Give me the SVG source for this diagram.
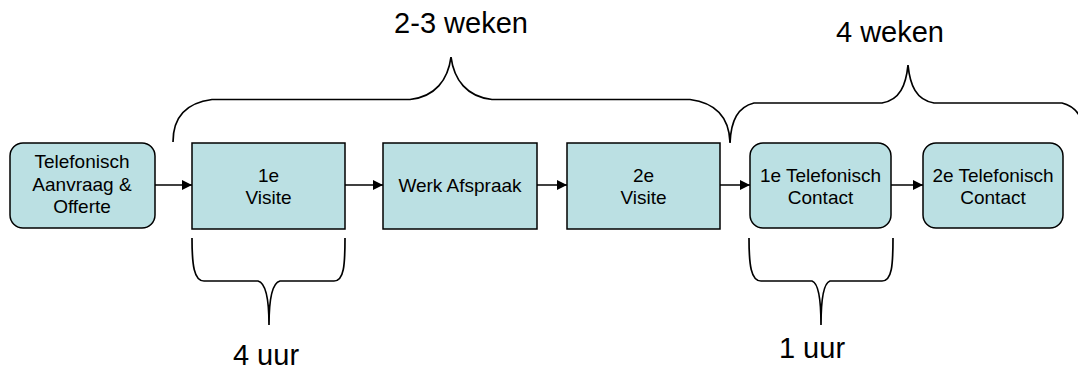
<svg xmlns="http://www.w3.org/2000/svg" width="1078" height="371" viewBox="0 0 1078 371">
<style>
.box{fill:#BBE0E3;stroke:#000;stroke-width:1.5}
.t{font-family:"Liberation Sans",Arial,sans-serif;font-size:19px;fill:#000;text-anchor:middle}
.big{font-family:"Liberation Sans",Arial,sans-serif;font-size:29px;fill:#000;text-anchor:middle}
.c{fill:none;stroke:#000;stroke-width:1.5}
.br{fill:none;stroke:#000;stroke-width:1.7}
</style>
<defs>
<marker id="ah" viewBox="0 0 10 10" refX="10" refY="5" markerWidth="10" markerHeight="10" markerUnits="userSpaceOnUse" orient="auto">
<path d="M0,0 L10,5 L0,10 Z" fill="#000"/>
</marker>
</defs>
<rect width="1078" height="371" fill="#fff"/>
<g id="n1"><rect class="box" x="10" y="143" width="145" height="85" rx="13"/>
<text class="t" x="82" y="168">Telefonisch</text><text class="t" x="82" y="191">Aanvraag &amp;</text><text class="t" x="82" y="213">Offerte</text></g>
<g id="n2"><rect class="box" x="192" y="143" width="153" height="86"/>
<text class="t" x="268.5" y="181.5">1e</text><text class="t" x="268.5" y="204">Visite</text></g>
<g id="n3"><rect class="box" x="383" y="143" width="154" height="86"/>
<text class="t" x="460" y="192">Werk Afspraak</text></g>
<g id="n4"><rect class="box" x="567" y="143" width="153" height="86"/>
<text class="t" x="643.5" y="181.5">2e</text><text class="t" x="643.5" y="204">Visite</text></g>
<g id="n5"><rect class="box" x="750" y="143" width="141" height="85" rx="13"/>
<text class="t" x="820.5" y="181.5">1e Telefonisch</text><text class="t" x="820.5" y="204">Contact</text></g>
<g id="n6"><rect class="box" x="923" y="143" width="140" height="85" rx="13"/>
<text class="t" x="993" y="181.5">2e Telefonisch</text><text class="t" x="993" y="204">Contact</text></g>
<g id="connectors">
<line class="c" x1="155" y1="185" x2="192" y2="185" marker-end="url(#ah)"/>
<line class="c" x1="345" y1="185" x2="383" y2="185" marker-end="url(#ah)"/>
<line class="c" x1="537" y1="185" x2="567" y2="185" marker-end="url(#ah)"/>
<line class="c" x1="720" y1="185" x2="750" y2="185" marker-end="url(#ah)"/>
<line class="c" x1="891" y1="185" x2="923" y2="185" marker-end="url(#ah)"/>
</g>
<g id="braces">
<path class="br" d="M173,142 C173,118 185,103 212,99.5 L410,99.5 C435,97 448,80 451,57 C454,80 467,97 492,99.5 L690,99.5 C717,103 729,118 730,142"/>
<path class="br" d="M730,143 C731,120 738,107 754,103 L882,103 C900,100 906,85 908,65 C910,85 916,100 934,103 L1062,103 C1078,107 1085,120 1086,143"/>
<path class="br" d="M192,238 C192,265 194,281 204,281 L258,281 C266,283 269,298 269,325 C269,298 272,283 280,281 L334,281 C344,281 345,265 345,238"/>
<path class="br" d="M749,238 C749,265 751,281 761,281 L812,281 C818,283 821,298 821,325 C821,298 824,283 830,281 L882,281 C892,281 893,265 893,238"/>
</g>
<g id="labels">
<text class="big" x="461" y="33">2-3 weken</text>
<text class="big" x="890" y="42">4 weken</text>
<text class="big" x="266" y="365">4 uur</text>
<text class="big" x="812" y="358">1 uur</text>
</g>
</svg>
